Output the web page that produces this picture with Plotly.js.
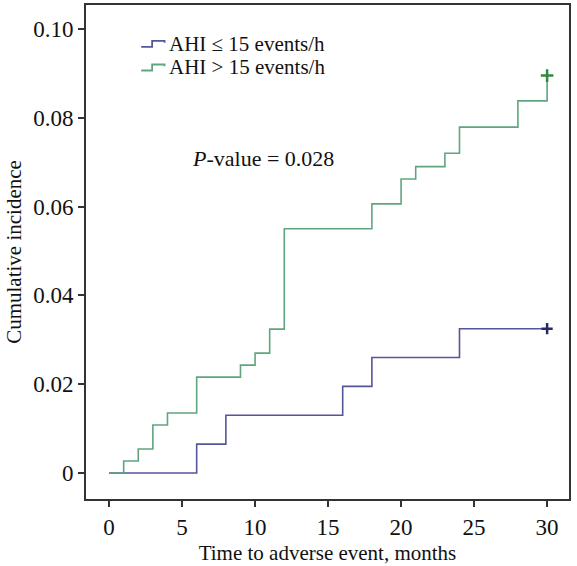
<!DOCTYPE html>
<html>
<head>
<meta charset="utf-8">
<script src="https://cdn.plot.ly/plotly-3.0.1.min.js"></script>
<style>html,body{margin:0;padding:0;background:#fff;}#chart{width:577px;height:566px;}</style>
</head>
<body>
<div id="chart"></div>
<script>
// Data
var lowTimes = [0, 6, 8, 16, 18, 24, 30];
var lowIncidence = [0, 0.0065, 0.013, 0.0195, 0.026, 0.0325, 0.0325];
var highTimes = [0, 1, 2, 3, 4, 6, 9, 10, 11, 12, 18, 20, 21, 23, 24, 28, 30];
var highIncidence = [0, 0.0027, 0.0054, 0.0108, 0.0135, 0.0216, 0.0243, 0.0270, 0.0324, 0.0550, 0.0606, 0.0662, 0.0690, 0.0720, 0.0779, 0.0838, 0.0895];
var censorTimes = [30];
var lowCensor = [0.0325];
var highCensor = [0.0895];
var seriesNames = ["AHI \u2264 15 events/h", "AHI > 15 events/h"];
var xTicks = [0, 5, 10, 15, 20, 25, 30];
var yTicks = [0, 0.02, 0.04, 0.06, 0.08, 0.10];
var yTickLabels = ["0", "0.02", "0.04", "0.06", "0.08", "0.10"];
var pText = "<i>P</i>-value = 0.028";

var blue = "#55559a", green = "#5fa57e";
var font = "Liberation Serif, Times New Roman, serif";

var traces = [
  {x: lowTimes, y: lowIncidence, mode: "lines", line: {shape: "hv", color: blue, width: 1.6}, name: seriesNames[0]},
  {x: highTimes, y: highIncidence, mode: "lines", line: {shape: "hv", color: green, width: 1.6}, name: seriesNames[1]},
  {x: censorTimes, y: lowCensor, mode: "markers", marker: {symbol: "cross-thin", size: 8, line: {color: "#2a2a66", width: 2.5}}, showlegend: false},
  {x: censorTimes, y: highCensor, mode: "markers", marker: {symbol: "cross-thin", size: 9, line: {color: "#2f8a3c", width: 2.5}}, showlegend: false}
];

function glyph(yc, color) {
  // small step-shaped legend key, data coords
  var x0 = 2.2, x1 = 2.95, x2 = 3.8;
  var lo = yc - 0.00045, hi = yc + 0.0009;
  return {type: "path", xref: "x", yref: "y",
    path: "M" + x0 + "," + lo + " L" + x1 + "," + lo + " L" + x1 + "," + hi + " L" + x2 + "," + hi + " L" + x2 + "," + (hi - 0.0004),
    line: {color: color, width: 1.8}};
}

var legY = [0.0967, 0.0914];

var layout = {
  width: 577, height: 566,
  margin: {l: 86, r: 8, t: 5, b: 67},
  paper_bgcolor: "#fff", plot_bgcolor: "#fff",
  showlegend: false,
  font: {family: font, size: 20, color: "#111"},
  xaxis: {
    range: [-1.58, 31.5], tickvals: xTicks, ticktext: xTicks.map(String),
    showgrid: false, zeroline: false, showline: true, mirror: true,
    linecolor: "#333", linewidth: 2, ticks: "outside", ticklen: 6, tickwidth: 2, tickcolor: "#333",
    tickfont: {family: font, size: 23, color: "#111"},
    title: {text: "Time to adverse event, months", font: {family: font, size: 21, color: "#111"}, standoff: 7}
  },
  yaxis: {
    range: [-0.00586, 0.1054], tickvals: yTicks, ticktext: yTickLabels,
    showgrid: false, zeroline: false, showline: true, mirror: true,
    linecolor: "#333", linewidth: 2, ticks: "outside", ticklen: 6, tickwidth: 2, tickcolor: "#333",
    tickfont: {family: font, size: 23, color: "#111"},
    title: {text: "Cumulative incidence", font: {family: font, size: 21, color: "#111"}, standoff: 6}
  },
  shapes: [glyph(legY[0] - 0.0003, blue), glyph(legY[1] - 0.0003, green)],
  annotations: [
    {x: 4.0, y: legY[0], xref: "x", yref: "y", text: seriesNames[0], showarrow: false, xanchor: "left", yanchor: "middle", font: {family: font, size: 21, color: "#111"}},
    {x: 4.0, y: legY[1], xref: "x", yref: "y", text: seriesNames[1], showarrow: false, xanchor: "left", yanchor: "middle", font: {family: font, size: 21, color: "#111"}},
    {x: 5.55, y: 0.0709, xref: "x", yref: "y", text: pText, showarrow: false, xanchor: "left", yanchor: "middle", font: {family: font, size: 22, color: "#111"}}
  ]
};

Plotly.newPlot("chart", traces, layout, {staticPlot: true, displayModeBar: false});
</script>
</body>
</html>
